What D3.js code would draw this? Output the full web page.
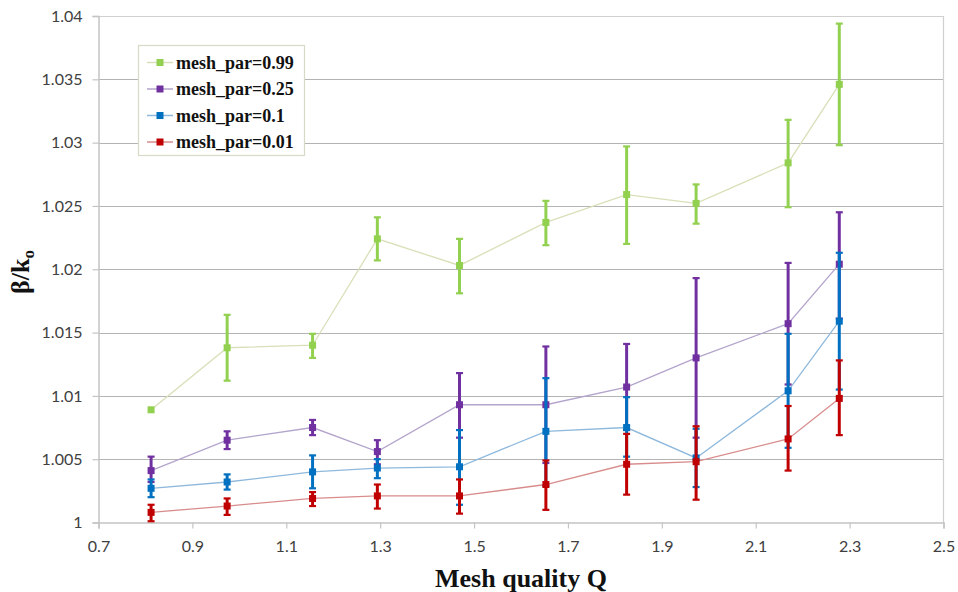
<!DOCTYPE html>
<html>
<head>
<meta charset="utf-8">
<script src="https://cdn.jsdelivr.net/npm/d3@7"></script>
<style>
  html, body { margin: 0; padding: 0; background: #ffffff; }
  svg { display: block; }
</style>
</head>
<body>
<svg id="chart" width="958" height="592"></svg>
<script>
// ---------- data ----------
const qValues = [0.812, 0.974, 1.156, 1.294, 1.469, 1.653, 1.825, 1.973, 2.169, 2.278];

const seriesNames = ["mesh_par=0.99", "mesh_par=0.25", "mesh_par=0.1", "mesh_par=0.01"];

const mean099 = [1.0089, 1.0138, 1.0140, 1.0224, 1.0203, 1.0237, 1.0259, 1.0252, 1.0284, 1.0346];
const low099  = [1.0089, 1.0112, 1.0130, 1.0207, 1.0181, 1.0219, 1.0220, 1.0236, 1.0249, 1.0298];
const high099 = [1.0089, 1.0164, 1.0149, 1.0241, 1.0224, 1.0254, 1.0297, 1.0267, 1.0318, 1.0394];

const mean025 = [1.0041, 1.0065, 1.0075, 1.0056, 1.0093, 1.0093, 1.0107, 1.0130, 1.0157, 1.0204];
const low025  = [1.0032, 1.0058, 1.0069, 1.0046, 1.0067, 1.0047, 1.0073, 1.0067, 1.0109, 1.0161];
const high025 = [1.0052, 1.0072, 1.0081, 1.0065, 1.0118, 1.0139, 1.0141, 1.0193, 1.0205, 1.0245];

const mean010 = [1.0027, 1.0032, 1.0040, 1.0043, 1.0044, 1.0072, 1.0075, 1.0051, 1.0104, 1.0159];
const low010  = [1.0020, 1.0026, 1.0027, 1.0035, 1.0014, 1.0029, 1.0052, 1.0028, 1.0059, 1.0105];
const high010 = [1.0034, 1.0038, 1.0053, 1.0050, 1.0073, 1.0114, 1.0099, 1.0074, 1.0149, 1.0213];

const mean001 = [1.0008, 1.0013, 1.0019, 1.0021, 1.0021, 1.0030, 1.0046, 1.0048, 1.0066, 1.0098];
const low001  = [1.0001, 1.0006, 1.0013, 1.0011, 1.0007, 1.0010, 1.0022, 1.0018, 1.0041, 1.0069];
const high001 = [1.0014, 1.0019, 1.0024, 1.0030, 1.0034, 1.0049, 1.0070, 1.0076, 1.0092, 1.0128];

const xTicks = [0.7, 0.9, 1.1, 1.3, 1.5, 1.7, 1.9, 2.1, 2.3, 2.5];
const yTicks = [1, 1.005, 1.01, 1.015, 1.02, 1.025, 1.03, 1.035, 1.04];

const markerColors = ["#92d050", "#7030a0", "#0070c0", "#c00000"];
const lineColors   = ["#d9dfb8", "#b3a4cc", "#8fb9dc", "#d88c8c"];

const series = [
  { name: seriesNames[0], mean: mean099, low: low099, high: high099 },
  { name: seriesNames[1], mean: mean025, low: low025, high: high025 },
  { name: seriesNames[2], mean: mean010, low: low010, high: high010 },
  { name: seriesNames[3], mean: mean001, low: low001, high: high001 }
];

// ---------- layout ----------
const svg = d3.select("#chart");
const pL = 98.5, pR = 943.5, pT = 16, pB = 522.5;

const x = d3.scaleLinear().domain([0.7, 2.5]).range([pL, pR]);
const y = d3.scaleLinear().domain([1, 1.04]).range([pB, pT]);

// gridlines
svg.append("g")
  .selectAll("line")
  .data(yTicks.filter(d => d > 1))
  .join("line")
  .attr("x1", pL).attr("x2", pR)
  .attr("y1", d => Math.round(y(d)) + 0.5).attr("y2", d => Math.round(y(d)) + 0.5)
  .attr("stroke", d => d === 1.04 ? "#d0d0d0" : "#b4b4b4")
  .attr("stroke-width", 1.2);

// right border
svg.append("line")
  .attr("x1", pR).attr("x2", pR).attr("y1", pT).attr("y2", pB)
  .attr("stroke", "#d0d0d0").attr("stroke-width", 1.2);

const tickFont = "Lato, 'Open Sans', sans-serif";

// y axis
const yAxis = svg.append("g")
  .attr("transform", `translate(${pL},0)`)
  .call(d3.axisLeft(y).tickValues(yTicks).tickFormat(d => String(+d.toFixed(3))).tickSize(6).tickPadding(10));
yAxis.select(".domain").attr("stroke", "#c4c4c4").attr("stroke-width", 1.5);
yAxis.selectAll(".tick line").attr("stroke", "#c4c4c4").attr("stroke-width", 1.2);
yAxis.selectAll(".tick text")
  .attr("font-family", tickFont).attr("font-size", 16).attr("fill", "#404040");

// x axis
const xAxis = svg.append("g")
  .attr("transform", `translate(0,${pB})`)
  .call(d3.axisBottom(x).tickValues(xTicks).tickFormat(d => d.toFixed(1)).tickSize(6).tickPadding(12));
xAxis.select(".domain").attr("stroke", "#c4c4c4").attr("stroke-width", 1.5);
xAxis.selectAll(".tick line").attr("stroke", "#c4c4c4").attr("stroke-width", 1.2);
xAxis.selectAll(".tick text")
  .attr("font-family", tickFont).attr("font-size", 16).attr("fill", "#404040");

// ---------- series ----------
const line = d3.line().x((d, i) => x(qValues[i])).y(d => y(d));

series.forEach((s, k) => {
  svg.append("path")
    .datum(s.mean)
    .attr("d", line)
    .attr("fill", "none")
    .attr("stroke", lineColors[k])
    .attr("stroke-width", 1.3);
});

const cap = 3.5, msize = 7;
series.forEach((s, k) => {
  const g = svg.append("g");
  const pts = qValues.map((q, i) => ({ q, m: s.mean[i], lo: s.low[i], hi: s.high[i] }))
    .filter(p => p.hi - p.lo > 0);
  g.selectAll("line.bar").data(pts).join("line")
    .attr("x1", p => x(p.q)).attr("x2", p => x(p.q))
    .attr("y1", p => y(p.lo)).attr("y2", p => y(p.hi))
    .attr("stroke", markerColors[k]).attr("stroke-width", 3);
  ["lo", "hi"].forEach(key => {
    g.selectAll("line.cap" + key).data(pts).join("line")
      .attr("class", "cap" + key)
      .attr("x1", p => x(p.q) - cap).attr("x2", p => x(p.q) + cap)
      .attr("y1", p => y(p[key])).attr("y2", p => y(p[key]))
      .attr("stroke", markerColors[k]).attr("stroke-width", 2.2);
  });
  g.selectAll("rect").data(qValues.map((q, i) => ({ q, m: s.mean[i] }))).join("rect")
    .attr("x", p => x(p.q) - msize / 2).attr("y", p => y(p.m) - msize / 2)
    .attr("width", msize).attr("height", msize)
    .attr("fill", markerColors[k]);
});

// ---------- axis titles ----------
svg.append("text")
  .attr("x", (pL + pR) / 2).attr("y", 587)
  .attr("text-anchor", "middle")
  .attr("font-family", "'Liberation Serif', 'Times New Roman', serif")
  .attr("font-weight", "bold").attr("font-size", 26).attr("fill", "#111")
  .text("Mesh quality Q");

const yt = svg.append("text")
  .attr("transform", `translate(29,272) rotate(-90)`)
  .attr("text-anchor", "middle")
  .attr("font-family", "'Liberation Serif', 'Times New Roman', serif")
  .attr("font-weight", "bold").attr("font-size", 26).attr("fill", "#111");
yt.append("tspan").text("β/k");
yt.append("tspan").attr("font-size", 17).attr("dy", 5).text("o");

// ---------- legend ----------
const lg = svg.append("g");
lg.append("rect")
  .attr("x", 138.5).attr("y", 45.5).attr("width", 166).attr("height", 110)
  .attr("fill", "#fff").attr("stroke", "#d6dac6").attr("stroke-width", 1.2);
const rowY = [62.5, 89, 115.5, 142];
series.forEach((s, k) => {
  const ry = rowY[k];
  lg.append("line").attr("x1", 147).attr("x2", 173).attr("y1", ry).attr("y2", ry)
    .attr("stroke", lineColors[k]).attr("stroke-width", 1.5);
  lg.append("rect").attr("x", 160 - 3.5).attr("y", ry - 3.5).attr("width", 7).attr("height", 7)
    .attr("fill", markerColors[k]);
  lg.append("text").attr("x", 176).attr("y", ry + 6)
    .attr("font-family", "'Liberation Serif', 'Times New Roman', serif")
    .attr("font-weight", "bold").attr("font-size", 18).attr("fill", "#111")
    .text(s.name);
});
</script>
</body>
</html>
